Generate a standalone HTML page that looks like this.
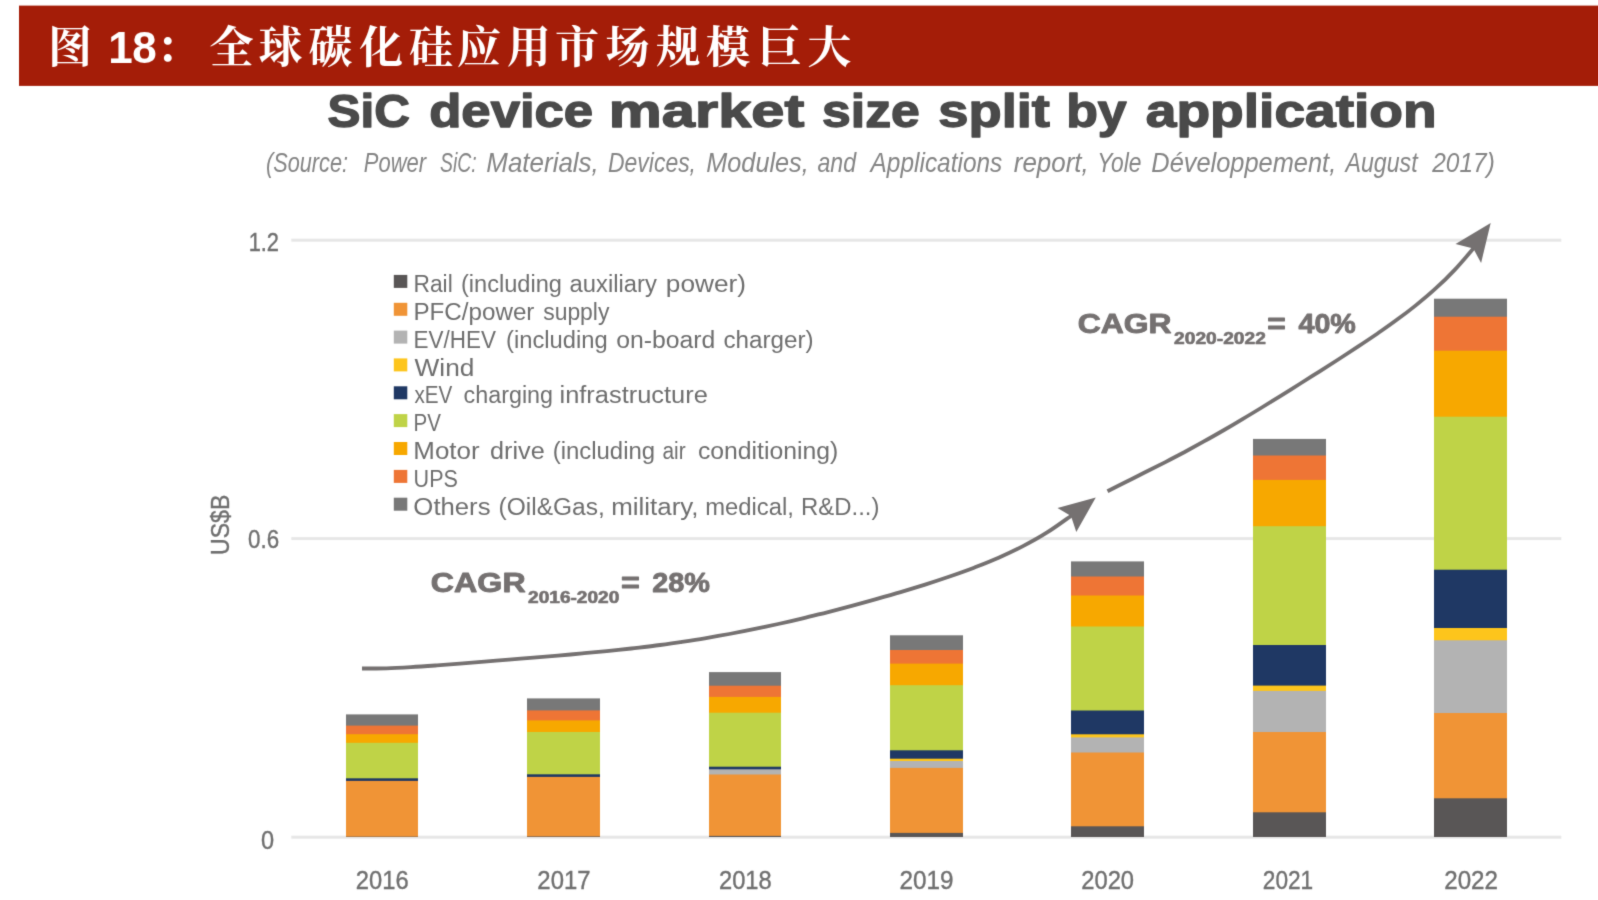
<!DOCTYPE html>
<html lang="zh-CN">
<head>
<meta charset="utf-8">
<title>图 18：全球碳化硅应用市场规模巨大</title>
<style>
html,body{margin:0;padding:0;background:#fff;}
body{width:1598px;height:900px;overflow:hidden;font-family:"Liberation Sans","Noto Serif CJK SC",sans-serif;}
svg{display:block;}
</style>
</head>
<body>
<svg width="1598" height="900" viewBox="0 0 1598 900">
<defs><filter id="soft" filterUnits="userSpaceOnUse" x="-20" y="-20" width="1680" height="960" color-interpolation-filters="sRGB"><feConvolveMatrix order="3" kernelMatrix="1 6 1 6 36 6 1 6 1" divisor="64" edgeMode="duplicate" preserveAlpha="false"/></filter></defs>
<g filter="url(#soft)">
<rect x="19" y="5.6" width="1620" height="80.3" fill="#a41d08"/>
<text y="63" x="70 97 120.5 144.5 178 231.5 280.5 330.5 381 431 479 529 577 627.5 678 728 779.5 829.5" font-family="'Liberation Sans','Noto Serif CJK SC',serif" font-weight="700" font-size="44" fill="#fff" text-anchor="middle">图 18：全球碳化硅应用市场规模巨大</text>
<text y="127" font-family="'Liberation Sans',sans-serif" font-size="46.5" font-weight="700" fill="#4a4a4a" stroke="#4a4a4a" stroke-width="1.4" stroke-linejoin="round"><tspan x="327.64" textLength="82.38" lengthAdjust="spacingAndGlyphs">SiC</tspan> <tspan x="429.17" textLength="164.01" lengthAdjust="spacingAndGlyphs">device</tspan> <tspan x="608.86" textLength="195.36" lengthAdjust="spacingAndGlyphs">market</tspan> <tspan x="822.09" textLength="97.67" lengthAdjust="spacingAndGlyphs">size</tspan> <tspan x="938.33" textLength="111.53" lengthAdjust="spacingAndGlyphs">split</tspan> <tspan x="1066.16" textLength="60.49" lengthAdjust="spacingAndGlyphs">by</tspan> <tspan x="1145.82" textLength="290.83" lengthAdjust="spacingAndGlyphs">application</tspan></text>
<text y="172.3" font-family="'Liberation Sans',sans-serif" font-size="27.5" font-style="italic" fill="#858585"><tspan x="266.01" textLength="81.99" lengthAdjust="spacingAndGlyphs">(Source:</tspan> <tspan x="363.80" textLength="62.23" lengthAdjust="spacingAndGlyphs">Power</tspan> <tspan x="440.00" textLength="36.75" lengthAdjust="spacingAndGlyphs">SiC:</tspan> <tspan x="486.30" textLength="112.49" lengthAdjust="spacingAndGlyphs">Materials,</tspan> <tspan x="608.00" textLength="88.00" lengthAdjust="spacingAndGlyphs">Devices,</tspan> <tspan x="706.30" textLength="102.42" lengthAdjust="spacingAndGlyphs">Modules,</tspan> <tspan x="817.50" textLength="38.57" lengthAdjust="spacingAndGlyphs">and</tspan> <tspan x="870.58" textLength="131.70" lengthAdjust="spacingAndGlyphs">Applications</tspan> <tspan x="1013.80" textLength="74.99" lengthAdjust="spacingAndGlyphs">report,</tspan> <tspan x="1097.14" textLength="44.40" lengthAdjust="spacingAndGlyphs">Yole</tspan> <tspan x="1151.30" textLength="184.94" lengthAdjust="spacingAndGlyphs">Développement,</tspan> <tspan x="1345.49" textLength="72.17" lengthAdjust="spacingAndGlyphs">August</tspan> <tspan x="1432.19" textLength="62.64" lengthAdjust="spacingAndGlyphs">2017)</tspan></text>
<rect x="291.3" y="238.7" width="1270" height="3" fill="#e7e7e7"/>
<rect x="291.3" y="537.1" width="1270" height="3" fill="#e7e7e7"/>
<rect x="291.3" y="835.7" width="1270" height="3" fill="#e7e7e7"/>
<text x="248.64" y="250.8" font-family="'Liberation Sans',sans-serif" font-size="25.5" fill="#707070" stroke="#707070" stroke-width="0.4" textLength="30.37" lengthAdjust="spacingAndGlyphs">1.2</text>
<text x="248.12" y="547.6" font-family="'Liberation Sans',sans-serif" font-size="25.5" fill="#707070" stroke="#707070" stroke-width="0.4" textLength="31.03" lengthAdjust="spacingAndGlyphs">0.6</text>
<text x="261.08" y="849.2" font-family="'Liberation Sans',sans-serif" font-size="25.5" fill="#707070" stroke="#707070" stroke-width="0.4" textLength="13.09" lengthAdjust="spacingAndGlyphs">0</text>
<text transform="translate(228.6,554.90) rotate(-90)" font-family="'Liberation Sans',sans-serif" font-size="25.5" fill="#707070" stroke="#707070" stroke-width="0.4" textLength="60.22" lengthAdjust="spacingAndGlyphs">US$B</text>
<rect x="346" y="714.4" width="72" height="122.6" fill="#787878"/>
<rect x="346" y="725.6" width="72" height="111.4" fill="#ee7535"/>
<rect x="346" y="734.2" width="72" height="102.8" fill="#f7a800"/>
<rect x="346" y="742.8" width="72" height="94.2" fill="#bfd347"/>
<rect x="346" y="778.3" width="72" height="58.7" fill="#1f3864"/>
<rect x="346" y="780.9" width="72" height="56.1" fill="#f09436"/>
<rect x="346" y="836.6" width="72" height="0.4" fill="#595656"/>
<text x="355.87" y="888.8" font-family="'Liberation Sans',sans-serif" font-size="25.5" fill="#707070" stroke="#707070" stroke-width="0.4" textLength="52.70" lengthAdjust="spacingAndGlyphs">2016</text>
<rect x="527" y="698.4" width="73" height="138.6" fill="#787878"/>
<rect x="527" y="710.4" width="73" height="126.6" fill="#ee7535"/>
<rect x="527" y="720.4" width="73" height="116.6" fill="#f7a800"/>
<rect x="527" y="732.0" width="73" height="105.0" fill="#bfd347"/>
<rect x="527" y="774.3" width="73" height="62.7" fill="#1f3864"/>
<rect x="527" y="776.9" width="73" height="60.1" fill="#f09436"/>
<rect x="527" y="836.4" width="73" height="0.6" fill="#595656"/>
<text x="537.36" y="888.8" font-family="'Liberation Sans',sans-serif" font-size="25.5" fill="#707070" stroke="#707070" stroke-width="0.4" textLength="53.14" lengthAdjust="spacingAndGlyphs">2017</text>
<rect x="709" y="672.1" width="72" height="164.9" fill="#787878"/>
<rect x="709" y="685.7" width="72" height="151.3" fill="#ee7535"/>
<rect x="709" y="696.9" width="72" height="140.1" fill="#f7a800"/>
<rect x="709" y="712.7" width="72" height="124.3" fill="#bfd347"/>
<rect x="709" y="766.7" width="72" height="70.3" fill="#1f3864"/>
<rect x="709" y="769.3" width="72" height="67.7" fill="#b3b3b3"/>
<rect x="709" y="774.5" width="72" height="62.5" fill="#f09436"/>
<rect x="709" y="835.9" width="72" height="1.1" fill="#595656"/>
<text x="718.97" y="888.8" font-family="'Liberation Sans',sans-serif" font-size="25.5" fill="#707070" stroke="#707070" stroke-width="0.4" textLength="52.70" lengthAdjust="spacingAndGlyphs">2018</text>
<rect x="890" y="635.3" width="73" height="201.7" fill="#787878"/>
<rect x="890" y="650.0" width="73" height="187.0" fill="#ee7535"/>
<rect x="890" y="663.6" width="73" height="173.4" fill="#f7a800"/>
<rect x="890" y="685.2" width="73" height="151.8" fill="#bfd347"/>
<rect x="890" y="750.3" width="73" height="86.7" fill="#1f3864"/>
<rect x="890" y="758.7" width="73" height="78.3" fill="#fdc51c"/>
<rect x="890" y="761.0" width="73" height="76.0" fill="#b3b3b3"/>
<rect x="890" y="767.9" width="73" height="69.1" fill="#f09436"/>
<rect x="890" y="832.9" width="73" height="4.1" fill="#595656"/>
<text x="899.55" y="888.8" font-family="'Liberation Sans',sans-serif" font-size="25.5" fill="#707070" stroke="#707070" stroke-width="0.4" textLength="53.98" lengthAdjust="spacingAndGlyphs">2019</text>
<rect x="1071" y="561.4" width="73" height="275.6" fill="#787878"/>
<rect x="1071" y="576.5" width="73" height="260.5" fill="#ee7535"/>
<rect x="1071" y="595.5" width="73" height="241.5" fill="#f7a800"/>
<rect x="1071" y="626.5" width="73" height="210.5" fill="#bfd347"/>
<rect x="1071" y="710.5" width="73" height="126.5" fill="#1f3864"/>
<rect x="1071" y="734.3" width="73" height="102.7" fill="#fdc51c"/>
<rect x="1071" y="737.4" width="73" height="99.6" fill="#b3b3b3"/>
<rect x="1071" y="752.5" width="73" height="84.5" fill="#f09436"/>
<rect x="1071" y="826.3" width="73" height="10.7" fill="#595656"/>
<text x="1081.27" y="888.8" font-family="'Liberation Sans',sans-serif" font-size="25.5" fill="#707070" stroke="#707070" stroke-width="0.4" textLength="52.80" lengthAdjust="spacingAndGlyphs">2020</text>
<rect x="1253" y="438.9" width="73" height="398.1" fill="#787878"/>
<rect x="1253" y="455.5" width="73" height="381.5" fill="#ee7535"/>
<rect x="1253" y="479.9" width="73" height="357.1" fill="#f7a800"/>
<rect x="1253" y="526.2" width="73" height="310.8" fill="#bfd347"/>
<rect x="1253" y="645.0" width="73" height="192.0" fill="#1f3864"/>
<rect x="1253" y="685.6" width="73" height="151.4" fill="#fdc51c"/>
<rect x="1253" y="690.9" width="73" height="146.1" fill="#b3b3b3"/>
<rect x="1253" y="732.0" width="73" height="105.0" fill="#f09436"/>
<rect x="1253" y="812.3" width="73" height="24.7" fill="#595656"/>
<text x="1262.81" y="888.8" font-family="'Liberation Sans',sans-serif" font-size="25.5" fill="#707070" stroke="#707070" stroke-width="0.4" textLength="50.44" lengthAdjust="spacingAndGlyphs">2021</text>
<rect x="1434" y="298.7" width="73" height="538.3" fill="#787878"/>
<rect x="1434" y="316.7" width="73" height="520.3" fill="#ee7535"/>
<rect x="1434" y="350.7" width="73" height="486.3" fill="#f7a800"/>
<rect x="1434" y="416.7" width="73" height="420.3" fill="#bfd347"/>
<rect x="1434" y="569.7" width="73" height="267.3" fill="#1f3864"/>
<rect x="1434" y="628.0" width="73" height="209.0" fill="#fdc51c"/>
<rect x="1434" y="640.3" width="73" height="196.7" fill="#b3b3b3"/>
<rect x="1434" y="713.0" width="73" height="124.0" fill="#f09436"/>
<rect x="1434" y="798.3" width="73" height="38.7" fill="#595656"/>
<text x="1444.25" y="888.8" font-family="'Liberation Sans',sans-serif" font-size="25.5" fill="#707070" stroke="#707070" stroke-width="0.4" textLength="53.66" lengthAdjust="spacingAndGlyphs">2022</text>
<rect x="393.8" y="274.9" width="13.5" height="13" fill="#595656"/>
<text y="292.2" font-family="'Liberation Sans',sans-serif" font-size="23" fill="#6e6e6e"><tspan x="413.51" textLength="39.19" lengthAdjust="spacingAndGlyphs">Rail</tspan> <tspan x="460.97" textLength="101.04" lengthAdjust="spacingAndGlyphs">(including</tspan> <tspan x="569.60" textLength="87.18" lengthAdjust="spacingAndGlyphs">auxiliary</tspan> <tspan x="665.86" textLength="80.19" lengthAdjust="spacingAndGlyphs">power)</tspan></text>
<rect x="393.8" y="302.8" width="13.5" height="13" fill="#f09436"/>
<text y="320.0" font-family="'Liberation Sans',sans-serif" font-size="23" fill="#6e6e6e"><tspan x="413.45" textLength="120.99" lengthAdjust="spacingAndGlyphs">PFC/power</tspan> <tspan x="543.20" textLength="66.20" lengthAdjust="spacingAndGlyphs">supply</tspan></text>
<rect x="393.8" y="330.6" width="13.5" height="13" fill="#b3b3b3"/>
<text y="347.8" font-family="'Liberation Sans',sans-serif" font-size="23" fill="#6e6e6e"><tspan x="413.52" textLength="82.43" lengthAdjust="spacingAndGlyphs">EV/HEV</tspan> <tspan x="506.07" textLength="101.65" lengthAdjust="spacingAndGlyphs">(including</tspan> <tspan x="616.20" textLength="99.05" lengthAdjust="spacingAndGlyphs">on-board</tspan> <tspan x="723.40" textLength="90.19" lengthAdjust="spacingAndGlyphs">charger)</tspan></text>
<rect x="393.8" y="358.4" width="13.5" height="13" fill="#fdc51c"/>
<text y="375.6" font-family="'Liberation Sans',sans-serif" font-size="23" fill="#6e6e6e"><tspan x="414.50" textLength="59.90" lengthAdjust="spacingAndGlyphs">Wind</tspan></text>
<rect x="393.8" y="386.3" width="13.5" height="13" fill="#1f3864"/>
<text y="403.4" font-family="'Liberation Sans',sans-serif" font-size="23" fill="#6e6e6e"><tspan x="414.50" textLength="37.91" lengthAdjust="spacingAndGlyphs">xEV</tspan> <tspan x="463.60" textLength="89.40" lengthAdjust="spacingAndGlyphs">charging</tspan> <tspan x="559.50" textLength="148.28" lengthAdjust="spacingAndGlyphs">infrastructure</tspan></text>
<rect x="393.8" y="414.1" width="13.5" height="13" fill="#bfd347"/>
<text y="431.2" font-family="'Liberation Sans',sans-serif" font-size="23" fill="#6e6e6e"><tspan x="413.61" textLength="27.40" lengthAdjust="spacingAndGlyphs">PV</tspan></text>
<rect x="393.8" y="442.0" width="13.5" height="13" fill="#f7a800"/>
<text y="459.0" font-family="'Liberation Sans',sans-serif" font-size="23" fill="#6e6e6e"><tspan x="413.37" textLength="66.24" lengthAdjust="spacingAndGlyphs">Motor</tspan> <tspan x="490.00" textLength="54.67" lengthAdjust="spacingAndGlyphs">drive</tspan> <tspan x="552.66" textLength="102.46" lengthAdjust="spacingAndGlyphs">(including</tspan> <tspan x="662.40" textLength="23.19" lengthAdjust="spacingAndGlyphs">air</tspan> <tspan x="697.90" textLength="140.41" lengthAdjust="spacingAndGlyphs">conditioning)</tspan></text>
<rect x="393.8" y="469.9" width="13.5" height="13" fill="#ee7535"/>
<text y="486.8" font-family="'Liberation Sans',sans-serif" font-size="23" fill="#6e6e6e"><tspan x="413.56" textLength="44.36" lengthAdjust="spacingAndGlyphs">UPS</tspan></text>
<rect x="393.8" y="497.7" width="13.5" height="13" fill="#787878"/>
<text y="514.6" font-family="'Liberation Sans',sans-serif" font-size="23" fill="#6e6e6e"><tspan x="413.38" textLength="77.18" lengthAdjust="spacingAndGlyphs">Others</tspan> <tspan x="498.53" textLength="106.25" lengthAdjust="spacingAndGlyphs">(Oil&amp;Gas,</tspan> <tspan x="611.17" textLength="87.39" lengthAdjust="spacingAndGlyphs">military,</tspan> <tspan x="705.26" textLength="88.67" lengthAdjust="spacingAndGlyphs">medical,</tspan> <tspan x="801.06" textLength="78.32" lengthAdjust="spacingAndGlyphs">R&amp;D...)</tspan></text>
<text y="592.4" font-family="'Liberation Sans',sans-serif" font-size="27.8" font-weight="700" fill="#757171" stroke="#757171" stroke-width="0.9" stroke-linejoin="round"><tspan x="430.89" textLength="94.74" lengthAdjust="spacingAndGlyphs">CAGR</tspan><tspan x="528.10" y="603.2" font-size="15.6" stroke-width="0.6" textLength="91.20" lengthAdjust="spacingAndGlyphs">2016-2020</tspan><tspan x="620.99" y="592.4" textLength="18.83" lengthAdjust="spacingAndGlyphs">=</tspan> <tspan x="652.15" textLength="57.74" lengthAdjust="spacingAndGlyphs">28%</tspan></text>
<text y="332.8" font-family="'Liberation Sans',sans-serif" font-size="27.8" font-weight="700" fill="#757171" stroke="#757171" stroke-width="0.9" stroke-linejoin="round"><tspan x="1077.70" textLength="93.93" lengthAdjust="spacingAndGlyphs">CAGR</tspan><tspan x="1174.10" y="343.6" font-size="15.6" stroke-width="0.6" textLength="91.80" lengthAdjust="spacingAndGlyphs">2020-2022</tspan><tspan x="1267.31" y="332.8" textLength="18.51" lengthAdjust="spacingAndGlyphs">=</tspan> <tspan x="1298.45" textLength="57.44" lengthAdjust="spacingAndGlyphs">40%</tspan></text>
<path d="M362.0,668.5 C366.1,668.5 378.3,668.5 386.5,668.3 C394.6,668.1 402.8,667.6 411.0,667.1 C419.1,666.7 427.3,666.1 435.4,665.5 C443.6,664.9 451.8,664.2 459.9,663.6 C468.1,662.9 476.3,662.3 484.4,661.6 C492.6,661.0 500.7,660.3 508.9,659.6 C517.1,659.0 525.2,658.3 533.4,657.6 C541.5,657.0 549.7,656.3 557.9,655.6 C566.0,654.9 574.2,654.2 582.3,653.4 C590.5,652.7 598.7,651.9 606.8,651.1 C615.0,650.3 623.1,649.4 631.3,648.5 C639.5,647.5 647.6,646.6 655.8,645.5 C664.0,644.5 672.1,643.3 680.3,642.1 C688.4,640.9 696.6,639.7 704.8,638.3 C712.9,636.9 721.1,635.5 729.2,634.0 C737.4,632.5 745.6,630.9 753.7,629.2 C761.9,627.5 770.0,625.8 778.2,624.0 C786.4,622.2 794.5,620.3 802.7,618.3 C810.9,616.4 819.0,614.3 827.2,612.3 C835.3,610.2 843.5,608.1 851.7,605.9 C859.8,603.7 868.0,601.4 876.1,599.1 C884.3,596.8 892.5,594.5 900.6,592.1 C908.8,589.6 916.9,587.1 925.1,584.6 C933.3,582.0 941.4,579.3 949.6,576.5 C957.7,573.7 965.9,570.8 974.1,567.7 C982.2,564.5 990.4,561.3 998.6,557.7 C1006.7,554.1 1014.9,550.3 1023.0,546.1 C1031.2,541.9 1039.4,537.4 1047.5,532.2 C1055.7,527.1 1067.9,518.0 1072.0,515.2" fill="none" stroke="#757171" stroke-width="3.8"/>
<path d="M1107.5,491.3 C1110.7,489.6 1120.4,484.7 1126.8,481.5 C1133.2,478.2 1139.6,475.1 1146.1,471.8 C1152.5,468.6 1158.9,465.4 1165.4,462.1 C1171.8,458.7 1178.2,455.4 1184.7,452.0 C1191.1,448.5 1197.5,445.0 1203.9,441.4 C1210.4,437.9 1216.8,434.2 1223.2,430.5 C1229.7,426.8 1236.1,423.0 1242.5,419.1 C1249.0,415.3 1255.4,411.4 1261.8,407.5 C1268.2,403.6 1274.7,399.6 1281.1,395.6 C1287.5,391.6 1294.0,387.5 1300.4,383.5 C1306.8,379.5 1313.3,375.4 1319.7,371.3 C1326.1,367.2 1332.5,363.1 1339.0,359.0 C1345.4,354.8 1351.8,350.7 1358.3,346.4 C1364.7,342.2 1371.1,337.9 1377.6,333.5 C1384.0,329.0 1390.4,324.6 1396.8,319.8 C1403.3,315.1 1409.7,310.3 1416.1,305.1 C1422.6,299.9 1429.0,294.6 1435.4,288.7 C1441.9,282.9 1448.3,276.8 1454.7,269.9 C1461.1,263.1 1470.8,251.5 1474.0,247.8" fill="none" stroke="#757171" stroke-width="3.8"/>
<path d="M1095.8,497.5 L1057.5,508 L1071,516 L1076.3,532 Z" fill="#757171"/>
<path d="M1490.7,222.9 L1455.5,244 L1473.3,248.6 L1481.1,262.9 Z" fill="#757171"/>
</g>
</svg>
</body>
</html>
